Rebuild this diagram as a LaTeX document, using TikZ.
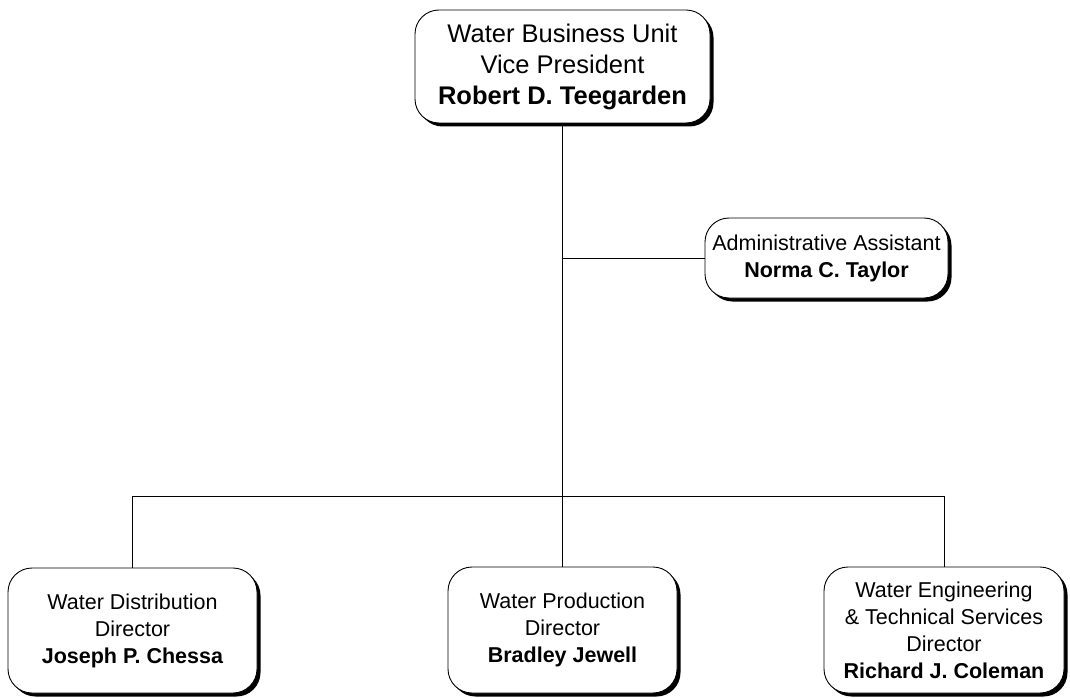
\documentclass[tikz,border=0pt]{standalone}
\usepackage{fontspec}
\setmainfont{Liberation Sans}
\usetikzlibrary{shadows}
\tikzset{
  %% position : a box of the chart
  position/.style={
    rectangle,
    rounded corners=24pt,
    draw=black,
    line width=0.9pt,
    fill=white,
    drop shadow={opacity=1, fill=black, shadow xshift=3.5pt, shadow yshift=-3.5pt},
    inner sep=0pt,
    align=center
  },
  %% head : the top box
  head/.style={
    position,
    font=\fontsize{25.5}{31}\selectfont
  },
  %% member : the other boxes
  member/.style={
    position,
    font=\fontsize{21.5}{27}\selectfont
  },
  %% link : connection between boxes
  link/.style={black, line width=0.7pt}
}

\begin{document}
\begin{tikzpicture}
  [x=1pt,
  y=-1pt]

  \useasboundingbox (0, 0) rectangle (1070, 698);

  %% Vice president
  \node (vp) [head, minimum width=295pt, minimum height=113pt] at (562.5, 66.5){%
    Water Business Unit \\
    Vice President \\
    \textbf{Robert D. Teegarden}
  };

  %% Assistant
  \node (assistant) [member, minimum width=243pt, minimum height=80pt] at (826.5, 258){%
    Administrative Assistant \\
    \textbf{Norma C. Taylor}
  };

  %% Directors
  \node (distribution) [member, minimum width=249pt, minimum height=125pt] at (132.5, 630.5){%
    Water Distribution \\
    Director \\
    \textbf{Joseph P. Chessa}
  };

  \node (production) [member, minimum width=229pt, minimum height=126pt] at (562.5, 630){%
    Water Production \\
    Director \\
    \textbf{Bradley Jewell}
  };

  \node (engineering) [member, minimum width=240pt, minimum height=126pt] at (944, 630){%
    Water Engineering \\
    \& Technical Services \\
    Director \\
    \textbf{Richard J. Coleman}
  };

  %% Connections
  \coordinate (bus) at (562.5, 496);
  \draw [link] (vp.south) -- (production.north);
  \draw [link] (assistant.west) -- (assistant.west -| vp.south);
  \draw [link] (distribution.north) |- (engineering.north |- bus)
    -- (engineering.north);

\end{tikzpicture}
\end{document}
